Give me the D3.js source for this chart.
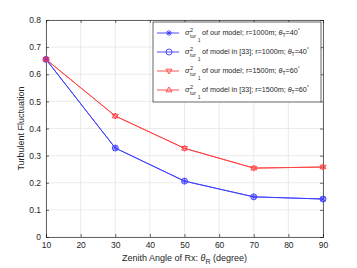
<!DOCTYPE html>
<html>
<head>
<meta charset="utf-8">
<script src="https://cdn.jsdelivr.net/npm/d3@7"></script>
<style>
  body { margin: 0; background: #fff; }
  svg { font-family: "Liberation Sans", Arial, sans-serif; }
</style>
</head>
<body>
<svg width="357" height="268"></svg>
<script>
const angles = [10, 30, 50, 70, 90];
const oursR1000 = [0.655, 0.328, 0.206, 0.148, 0.140];
const ref33R1000 = [0.655, 0.328, 0.206, 0.148, 0.140];
const oursR1500 = [0.655, 0.446, 0.327, 0.254, 0.258];
const ref33R1500 = [0.655, 0.446, 0.327, 0.254, 0.258];
const xTicks = [10, 20, 30, 40, 50, 60, 70, 80, 90];
const yTicks = [0, 0.1, 0.2, 0.3, 0.4, 0.5, 0.6, 0.7, 0.8];

const series = [
  { values: oursR1000, color: "#3b3bff", marker: "star", text: "of our model; r=1000m; ", theta: "40" },
  { values: ref33R1000, color: "#3b3bff", marker: "circle", text: "of model in [33]; r=1000m; ", theta: "40" },
  { values: oursR1500, color: "#ff4040", marker: "down", text: "of our model; r=1500m; ", theta: "60" },
  { values: ref33R1500, color: "#ff4040", marker: "up", text: "of model in [33]; r=1500m; ", theta: "60" }
];

const margin = { top: 20, right: 34, bottom: 31, left: 46 };
const width = 357, height = 268;

const x = d3.scaleLinear().domain([10, 90]).range([margin.left, width - margin.right]);
const y = d3.scaleLinear().domain([0, 0.8]).range([height - margin.bottom, margin.top]);

const svg = d3.select("svg");

// grid
const grid = svg.append("g").attr("stroke", "#e6e6e6").attr("stroke-width", 0.8);
grid.selectAll(".gx").data(xTicks).join("line")
  .attr("x1", d => x(d)).attr("x2", d => x(d))
  .attr("y1", y(0)).attr("y2", y(0.8));
grid.selectAll(".gy").data(yTicks).join("line")
  .attr("x1", x(10)).attr("x2", x(90))
  .attr("y1", d => y(d)).attr("y2", d => y(d));

// axes
const axisColor = "#262626";
const xAxis = g => g.attr("transform", `translate(0,${y(0)})`)
  .call(d3.axisBottom(x).tickValues(xTicks).tickSize(-3).tickPadding(5).tickFormat(d3.format("d")));
const yAxis = g => g.attr("transform", `translate(${x(10)},0)`)
  .call(d3.axisLeft(y).tickValues(yTicks).tickSize(-3).tickPadding(5).tickFormat(d => d === 0 ? "0" : d3.format(".1f")(d)));
const xTop = g => g.attr("transform", `translate(0,${y(0.8)})`)
  .call(d3.axisTop(x).tickValues(xTicks).tickSize(-3).tickFormat(""));
const yRight = g => g.attr("transform", `translate(${x(90)},0)`)
  .call(d3.axisRight(y).tickValues(yTicks).tickSize(-3).tickFormat(""));

[xAxis, yAxis, xTop, yRight].forEach(a => {
  const g = svg.append("g").call(a);
  g.selectAll("path, line").attr("stroke", axisColor).attr("stroke-width", 0.7);
  g.selectAll("text").attr("fill", axisColor).attr("font-size", 8.5)
    .attr("font-family", "Liberation Sans, Arial, sans-serif");
});

// lines
const line = d3.line().x((d, i) => x(angles[i])).y(d => y(d));

function drawMarker(g, type, color, cx, cy) {
  const s = 3;
  if (type === "circle") {
    g.append("circle").attr("cx", cx).attr("cy", cy).attr("r", s)
      .attr("fill", "none").attr("stroke", color).attr("stroke-width", 0.9);
  } else if (type === "star") {
    const p = `M${cx - s},${cy}L${cx + s},${cy}M${cx},${cy - s}L${cx},${cy + s}` +
      `M${cx - s * 0.7},${cy - s * 0.7}L${cx + s * 0.7},${cy + s * 0.7}` +
      `M${cx - s * 0.7},${cy + s * 0.7}L${cx + s * 0.7},${cy - s * 0.7}`;
    g.append("path").attr("d", p).attr("stroke", color).attr("stroke-width", 0.9).attr("fill", "none");
  } else {
    const dir = type === "up" ? -1 : 1;
    const p = `M${cx - s},${cy - dir * s * 0.6}L${cx + s},${cy - dir * s * 0.6}L${cx},${cy + dir * s}Z`;
    g.append("path").attr("d", p).attr("stroke", color).attr("stroke-width", 0.9).attr("fill", "none");
  }
}

const plot = svg.append("g");
series.forEach(s => {
  plot.append("path").datum(s.values)
    .attr("d", line).attr("fill", "none").attr("stroke", s.color).attr("stroke-width", 0.9);
});
series.forEach(s => {
  s.values.forEach((v, i) => drawMarker(plot, s.marker, s.color, x(angles[i]), y(v)));
});
plot.append("circle").attr("cx", x(angles[0])).attr("cy", y(oursR1000[0])).attr("r", 2.5)
  .attr("fill", "#c0307a").attr("opacity", 0.8);

// legend
const lg = svg.append("g").attr("transform", "translate(153,22)");
lg.append("rect").attr("x", 0).attr("y", 0).attr("width", 168).attr("height", 80)
  .attr("fill", "#fff").attr("stroke", "#262626").attr("stroke-width", 0.7);
series.forEach((s, i) => {
  const ly = 11 + i * 19;
  lg.append("line").attr("x1", 4).attr("x2", 26).attr("y1", ly).attr("y2", ly)
    .attr("stroke", s.color).attr("stroke-width", 0.9);
  drawMarker(lg, s.marker, s.color, 16, ly);
  lg.append("text").attr("x", 32).attr("y", ly + 2).attr("font-size", 7.5)
    .attr("font-style", "italic").attr("fill", "#262626").text("σ");
  lg.append("text").attr("x", 37).attr("y", ly - 1.5).attr("font-size", 5.5)
    .attr("fill", "#262626").text("2");
  lg.append("text").attr("x", 37).attr("y", ly + 4.5).attr("font-size", 5)
    .attr("fill", "#262626").text("tur");
  lg.append("text").attr("x", 45).attr("y", ly + 8.5).attr("font-size", 4.5)
    .attr("fill", "#262626").text("1");
  const t = lg.append("text").attr("x", 49).attr("y", ly + 2).attr("font-size", 7.2).attr("fill", "#262626");
  t.append("tspan").text(s.text);
  t.append("tspan").attr("font-style", "italic").text("θ");
  t.append("tspan").attr("dy", 2).attr("font-size", 5).text("T");
  t.append("tspan").attr("dy", -2).text("=" + s.theta);
  t.append("tspan").attr("dy", -3).attr("font-size", 5).text("°");
});

// axis labels
svg.append("text").attr("x", x(50)).attr("y", 261).attr("text-anchor", "middle")
  .attr("font-size", 9).attr("fill", axisColor)
  .call(t => {
    t.append("tspan").text("Zenith Angle of Rx: ");
    t.append("tspan").attr("font-style", "italic").text("θ");
    t.append("tspan").attr("dy", 3).attr("font-size", 7).text("R");
    t.append("tspan").attr("dy", -3).text(" (degree)");
  });
svg.append("text").attr("transform", `translate(24,${y(0.4)}) rotate(-90)`)
  .attr("text-anchor", "middle").attr("font-size", 9).attr("fill", axisColor)
  .text("Turbulent Fluctuation");
</script>
</body>
</html>
